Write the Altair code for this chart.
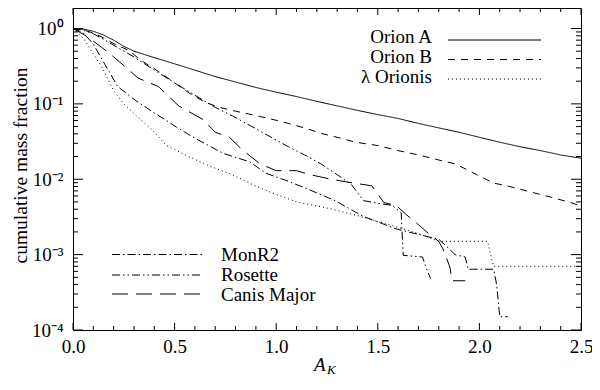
import altair as alt
import pandas as pd

FONT = "Liberation Serif"

# ---------------- data ----------------
names = ["Orion A", "Orion B", "λ Orionis", "MonR2", "Rosette", "Canis Major"]

orionA_x = [0, 0.05, 0.1, 0.15, 0.2, 0.25, 0.3, 0.4, 0.5, 0.6, 0.7, 0.8, 0.9, 1.0, 1.1, 1.2, 1.3,
            1.4, 1.5, 1.6, 1.7, 1.8, 1.9, 2.0, 2.1, 2.2, 2.3, 2.4, 2.5]
orionA_y = [1.0, 0.98, 0.92, 0.82, 0.70, 0.58, 0.50, 0.41, 0.34, 0.28, 0.23, 0.195, 0.165, 0.143,
            0.125, 0.108, 0.094, 0.082, 0.072, 0.064, 0.055, 0.048, 0.042, 0.036, 0.031, 0.027,
            0.024, 0.021, 0.019]

orionB_x = [0, 0.05, 0.1, 0.15, 0.2, 0.27, 0.34, 0.42, 0.5, 0.57, 0.65, 0.72, 0.8, 0.9, 1.03, 1.15,
            1.23, 1.3, 1.39, 1.5, 1.6, 1.7, 1.8, 1.88, 1.95, 2.0, 2.07, 2.15, 2.27, 2.35, 2.45, 2.5]
orionB_y = [1.0, 0.96, 0.87, 0.75, 0.63, 0.52, 0.37, 0.27, 0.19, 0.14, 0.105, 0.09, 0.08, 0.07,
            0.058, 0.047, 0.040, 0.036, 0.031, 0.028, 0.024, 0.021, 0.018, 0.016, 0.013, 0.011,
            0.0089, 0.0080, 0.0066, 0.0058, 0.0049, 0.0044]

lori_x = [0, 0.05, 0.11, 0.15, 0.2, 0.25, 0.31, 0.39, 0.46, 0.57, 0.67, 0.78, 0.9, 0.98, 1.1, 1.26,
          1.4, 1.6, 1.7, 1.8, 2.04, 2.055, 2.07, 2.5]
lori_y = [1.0, 0.75, 0.42, 0.28, 0.15, 0.10, 0.07, 0.045, 0.028, 0.020, 0.015, 0.0116, 0.0081,
          0.0066, 0.005, 0.0041, 0.0033, 0.0023, 0.0019, 0.0015, 0.0015, 0.001, 0.0007, 0.0007]

monr2_x = [0, 0.05, 0.1, 0.15, 0.22, 0.31, 0.39, 0.46, 0.51, 0.6, 0.74, 0.87, 0.95, 1.06, 1.15,
           1.29, 1.43, 1.59, 1.65, 1.8, 1.85, 1.88, 1.93, 1.945, 2.07, 2.085, 2.10, 2.14]
monr2_y = [1.0, 0.88, 0.62, 0.36, 0.17, 0.11, 0.079, 0.06, 0.049, 0.035, 0.022, 0.017, 0.012,
           0.0094, 0.0075, 0.0052, 0.0032, 0.0022, 0.002, 0.0016, 0.0012, 0.001, 0.00093,
           0.00064, 0.00064, 0.0004, 0.00015, 0.00015]

rosette_x = [0, 0.05, 0.1, 0.15, 0.2, 0.3, 0.4, 0.5, 0.6, 0.7, 0.79, 0.88, 0.96, 1.06, 1.14, 1.22,
             1.3, 1.37, 1.43, 1.5, 1.57, 1.615, 1.625, 1.72, 1.735, 1.76]
rosette_y = [1.0, 0.95, 0.85, 0.72, 0.6, 0.42, 0.28, 0.19, 0.13, 0.09, 0.068, 0.05, 0.038, 0.027,
             0.021, 0.016, 0.0115, 0.0085, 0.0052, 0.0048, 0.0045, 0.0036, 0.00098, 0.00093,
             0.0007, 0.00048]

cma_x = [0, 0.06, 0.1, 0.17, 0.2, 0.27, 0.32, 0.42, 0.52, 0.64, 0.70, 0.77, 0.83, 0.92, 1.0, 1.1,
         1.16, 1.27, 1.38, 1.47, 1.53, 1.59, 1.64, 1.70, 1.75, 1.80, 1.82, 1.835, 1.855, 1.865, 1.93]
cma_y = [1.0, 0.81, 0.68, 0.49, 0.42, 0.29, 0.22, 0.17, 0.094, 0.062, 0.042, 0.036, 0.025, 0.016,
         0.013, 0.013, 0.0116, 0.010, 0.0089, 0.0082, 0.0049, 0.0045, 0.0034, 0.0025, 0.0019,
         0.0015, 0.0012, 0.00095, 0.00068, 0.00045, 0.00045]

x_labels = [0.0, 0.5, 1.0, 1.5, 2.0, 2.5]
y_labels = [1e-4, 1e-3, 1e-2, 1e-1, 1.0]

# ---------------- styling ----------------
dashes = [[1, 0], [7, 6], [1, 3], [8, 3, 1.5, 3], [8, 3, 1.5, 3, 1.5, 3], [16, 8]]
W, H = 508, 322

series = [(names[0], orionA_x, orionA_y), (names[1], orionB_x, orionB_y),
          (names[2], lori_x, lori_y), (names[3], monr2_x, monr2_y),
          (names[4], rosette_x, rosette_y), (names[5], cma_x, cma_y)]
rows = []
for nm, xs, ys in series:
    for i, (a, v) in enumerate(zip(xs, ys)):
        rows.append({"series": nm, "A": a, "f": v, "i": i})
df = pd.DataFrame(rows)

xscale = alt.Scale(domain=[0, 2.5], nice=False, zero=False)
yscale = alt.Scale(type="log", domain=[1e-4, 1.87], nice=False)

label_expr = ("datum.value < 0.0005 ? '10⁻⁴' : datum.value < 0.005 ? '10⁻³' : "
              "datum.value < 0.05 ? '10⁻²' : datum.value < 0.5 ? '10⁻¹' : '10⁰'")

x_axis = alt.Axis(values=x_labels, format=".1f", tickSize=0, domain=False, grid=False,
                  labelFontSize=19, labelPadding=7, title=None, labelColor="black",
                  labelFont=FONT, labelFlush=False)
y_axis = alt.Axis(values=y_labels, labelExpr=label_expr, tickSize=0, domain=False,
                  grid=False, labelFontSize=19, labelPadding=10, labelColor="black",
                  labelFont=FONT, labelFlush=False, title="cumulative mass fraction",
                  titleFont=FONT, titleFontSize=19.5, titleFontWeight="normal",
                  titleColor="black", titleX=-47, titleY=157, titleBaseline="alphabetic",
                  titleAlign="center")

lines = alt.Chart(df).mark_line(color="black", strokeWidth=1).encode(
    x=alt.X("A:Q", scale=xscale, axis=x_axis),
    y=alt.Y("f:Q", scale=yscale, axis=y_axis),
    strokeDash=alt.StrokeDash("series:N", scale=alt.Scale(domain=names, range=dashes),
                              legend=None),
    detail="series:N",
    order="i:Q",
)

layers = [lines]

# inside ticks (same field names as the lines so scales and axes merge)
x_minor = [round(k * 0.1, 1) for k in range(26) if k % 5 != 0]
y_minor = [m * 10 ** d for d in range(-4, 0) for m in range(2, 10)]

def xticks(vals, length):
    d = pd.DataFrame({"A": vals})
    b = alt.Chart(d).mark_rule(color="black", strokeWidth=1).encode(
        x=alt.X("A:Q", scale=xscale, axis=x_axis), y=alt.value(H), y2=alt.value(H - length))
    t = alt.Chart(d).mark_rule(color="black", strokeWidth=1).encode(
        x=alt.X("A:Q", scale=xscale, axis=x_axis), y=alt.value(0), y2=alt.value(length))
    return [b, t]

def yticks(vals, length):
    d = pd.DataFrame({"f": vals})
    l = alt.Chart(d).mark_rule(color="black", strokeWidth=1).encode(
        y=alt.Y("f:Q", scale=yscale, axis=y_axis), x=alt.value(0), x2=alt.value(length))
    r = alt.Chart(d).mark_rule(color="black", strokeWidth=1).encode(
        y=alt.Y("f:Q", scale=yscale, axis=y_axis), x=alt.value(W - length), x2=alt.value(W))
    return [l, r]

layers += xticks(x_labels, 7) + xticks(x_minor, 4)
layers += yticks(y_labels, 10) + yticks(y_minor, 5)

# legends (upper right: text right-aligned; lower left: text left-aligned)
leg_top = [(0, 32, 35), (1, 51.5, 55), (2, 71, 75)]
for k, ly, ty in leg_top:
    d = pd.DataFrame({"label": [names[k]]})
    layers.append(alt.Chart(d).mark_rule(color="black", strokeWidth=1, strokeDash=dashes[k]).encode(
        x=alt.value(375), x2=alt.value(468), y=alt.value(ly)))
    layers.append(alt.Chart(d).mark_text(font=FONT, fontSize=19, align="right",
                                         baseline="alphabetic", color="black").encode(
        x=alt.value(359), y=alt.value(ty), text="label:N"))

leg_bot = [(3, 246.5, 252.5), (4, 267, 273), (5, 286, 292.5)]
for k, ly, ty in leg_bot:
    d = pd.DataFrame({"label": [names[k]]})
    layers.append(alt.Chart(d).mark_rule(color="black", strokeWidth=1, strokeDash=dashes[k]).encode(
        x=alt.value(39), x2=alt.value(130), y=alt.value(ly)))
    layers.append(alt.Chart(d).mark_text(font=FONT, fontSize=19, align="left",
                                         baseline="alphabetic", color="black").encode(
        x=alt.value(148), y=alt.value(ty), text="label:N"))

# x-axis title A_K
layers.append(alt.Chart(pd.DataFrame({"t": ["A"]})).mark_text(
    font=FONT, fontSize=19, fontStyle="italic", align="left", baseline="alphabetic",
    color="black").encode(x=alt.value(241), y=alt.value(363), text="t:N"))
layers.append(alt.Chart(pd.DataFrame({"t": ["K"]})).mark_text(
    font=FONT, fontSize=13, fontStyle="italic", align="left", baseline="alphabetic",
    color="black").encode(x=alt.value(254), y=alt.value(366), text="t:N"))

chart = alt.layer(*layers).properties(
    width=W, height=H,
    autosize=alt.AutoSizeParams(type="none"),
    padding={"left": 65, "top": 0, "right": 11, "bottom": 46},
).configure_view(stroke="black", strokeWidth=1)

chart.save("out.html", embed_options={"renderer": "svg", "actions": False})
